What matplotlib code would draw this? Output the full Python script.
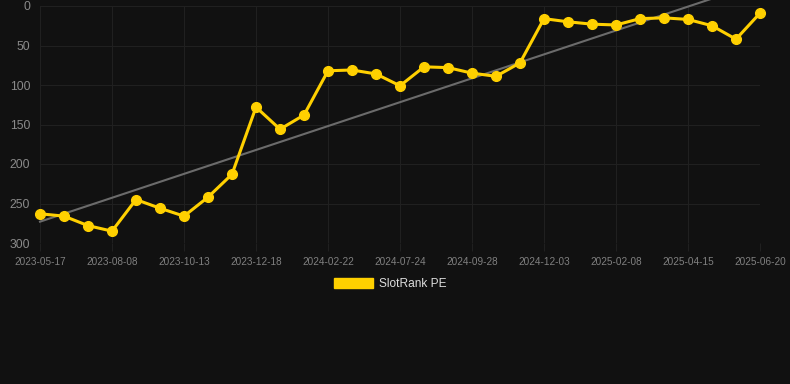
import numpy as np
import matplotlib
matplotlib.use('Agg')
import matplotlib.pyplot as plt
from matplotlib.patches import Patch

# Data (rank, lower is better)
dates = ['2023-05-17', '', '', '2023-08-08', '', '', '2023-10-13', '', '', '2023-12-18', '', '',
         '2024-02-22', '', '', '2024-07-24', '', '', '2024-09-28', '', '', '2024-12-03', '', '',
         '2025-02-08', '', '', '2025-04-15', '', '', '2025-06-20']
ranks = [263, 266, 278, 285, 245, 256, 266, 242, 213, 128, 156, 138,
         82, 81, 86, 101, 77, 78, 85, 89, 72, 16, 20, 23,
         24, 16, 15, 17, 25, 42, 9]
# trend line value at first and last point
trend = [273, -29.5]
y_ticks = [0, 50, 100, 150, 200, 250, 300]

BG = '#111111'
GRID = '#202020'
YELLOW = '#ffd000'

plt.rcParams['font.family'] = ['Liberation Sans', 'DejaVu Sans']

fig = plt.figure(figsize=(7.9, 3.84), dpi=100, facecolor=BG)
ax = fig.add_axes([40 / 790, 1 - 243 / 384, 720 / 790, 237 / 384])
ax.set_facecolor(BG)

x = np.arange(len(ranks))

ax.plot([x[0], x[-1]], trend, color='#6b6b6b', linewidth=1.5, clip_on=False, zorder=2)
ax.plot(x, ranks, color=YELLOW, linewidth=2.2, marker='o', markersize=7,
        clip_on=False, zorder=3)

ax.set_xlim(0, len(ranks) - 1)
ax.set_ylim(300, 0)
ax.set_yticks(y_ticks)
ax.tick_params(axis='y', colors='#8a8a8a', labelsize=8.8, length=0, pad=7)

tick_idx = [i for i, d in enumerate(dates) if d]
ax.set_xticks(tick_idx)
ax.set_xticklabels([dates[i] for i in tick_idx])
ax.tick_params(axis='x', colors=GRID, labelcolor='#808080', labelsize=7.2, length=6, pad=4)

ax.grid(True, color=GRID, linewidth=0.8)
ax.set_axisbelow(True)
for s in ax.spines.values():
    s.set_visible(False)

handle = Patch(facecolor=YELLOW, edgecolor=YELLOW)
leg = fig.legend([handle], ['SlotRank PE'], loc='center', bbox_to_anchor=(390 / 790, 1 - 284 / 384),
                 frameon=False, fontsize=8.6, handlelength=3.3, handleheight=1.0,
                 handletextpad=0.5, labelcolor='#dddddd')

fig.savefig('out.png', dpi=100, facecolor=BG)
